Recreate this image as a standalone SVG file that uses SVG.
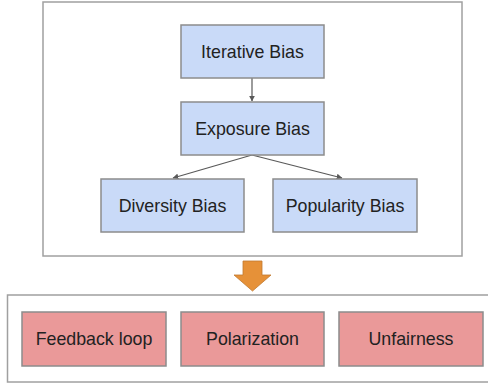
<svg xmlns="http://www.w3.org/2000/svg" width="488" height="383" viewBox="0 0 488 383">
<defs>
<style>
.frame{fill:#fff;stroke:#a0a0a0;stroke-width:1.5}
.blue{fill:#c9daf8;stroke:#8c8c8c;stroke-width:1.5}
.pink{fill:#ea9999;stroke:#8c8c8c;stroke-width:1.5}
.t{font-family:"Liberation Sans",Arial,sans-serif;font-size:17.8px;fill:#222;text-anchor:middle;dominant-baseline:central}
.c{stroke:#595959;stroke-width:1.2;fill:none;marker-end:url(#ah)}
</style>
<marker id="ah" viewBox="0 0 10 10" refX="9" refY="5" markerWidth="6" markerHeight="6" orient="auto" markerUnits="userSpaceOnUse">
<path d="M0,0 L10,5 L0,10 z" fill="#595959"/>
</marker>
</defs>
<rect class="frame" x="43" y="2" width="419" height="254"/>
<rect class="frame" x="7.5" y="295" width="485" height="87"/>
<g id="connectors">
<line class="c" x1="252" y1="78" x2="252" y2="101"/>
<line class="c" x1="252" y1="155" x2="173" y2="178"/>
<line class="c" x1="252" y1="155" x2="342" y2="178"/>
<path d="M243,261 H262 V275 H271 L252.5,291 L234,275 H243 Z" fill="#e69138" stroke="#c07a30" stroke-width="0.8"/>
</g>
<g id="iterative"><rect class="blue" x="181" y="25" width="143" height="53"/><text class="t" x="252.5" y="51.5">Iterative Bias</text></g>
<g id="exposure"><rect class="blue" x="181" y="102" width="143" height="53"/><text class="t" x="252.5" y="128.5">Exposure Bias</text></g>
<g id="diversity"><rect class="blue" x="101" y="179" width="143" height="53"/><text class="t" x="172.5" y="205.5">Diversity Bias</text></g>
<g id="popularity"><rect class="blue" x="273" y="179" width="144" height="53"/><text class="t" x="345" y="205.5">Popularity Bias</text></g>
<g id="feedback"><rect class="pink" x="22" y="312" width="144" height="54"/><text class="t" x="94" y="339">Feedback loop</text></g>
<g id="polarization"><rect class="pink" x="181" y="312" width="143" height="54"/><text class="t" x="252.5" y="339">Polarization</text></g>
<g id="unfairness"><rect class="pink" x="339" y="312" width="144" height="54"/><text class="t" x="411" y="339">Unfairness</text></g>
</svg>
